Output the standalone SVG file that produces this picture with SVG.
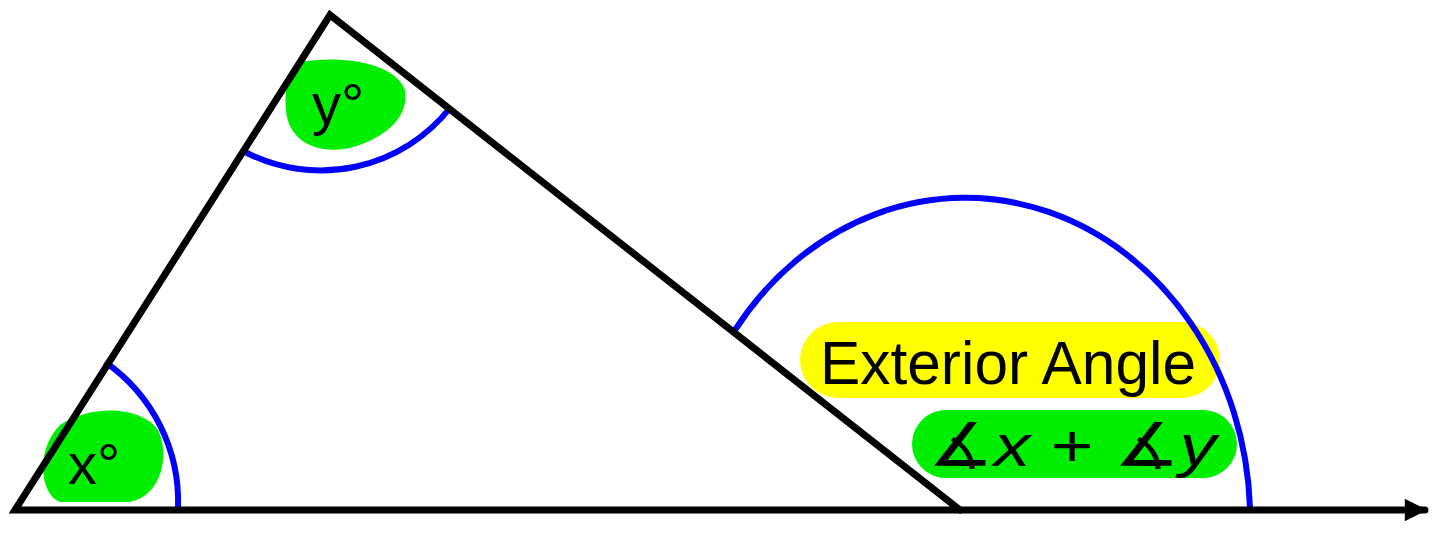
<svg xmlns="http://www.w3.org/2000/svg" width="1440" height="557" viewBox="0 0 1440 557">
<style>
.edge{stroke:#000;stroke-width:7;fill:none;stroke-linejoin:miter;stroke-linecap:round}
.arc{stroke:#0000ff;stroke-width:6;fill:none}
.lbl{font-family:"Comic Sans MS","Liberation Sans",sans-serif;fill:#000}
</style>
<defs>
<marker id="ah" viewBox="0 0 10 10" refX="9" refY="5" markerWidth="4" markerHeight="3.2" orient="auto" markerUnits="strokeWidth">
<path d="M0,0 L10,5 L0,10 z" fill="#000"/>
</marker>
</defs>
<rect width="1440" height="557" fill="#fff"/>
<g id="angle-x">
<path class="arc" d="M105,362 A170,170 0 0 1 178,508"/>
<path d="M60,425 C90,405 140,405 158,430 C170,455 162,495 130,502 L60,502 C40,495 35,450 60,425 z" fill="#00ee00"/>
<text class="lbl" x="68" y="484" font-size="58">x°</text>
</g>
<g id="angle-y">
<path class="arc" d="M245,152 A165,165 0 0 0 450,108"/>
<path d="M300,62 C340,55 395,62 405,90 C410,120 380,140 350,148 C315,155 288,140 286,110 C284,85 290,66 300,62 z" fill="#00ee00"/>
<text class="lbl" x="312" y="124" font-size="58">y°</text>
</g>
<g id="exterior-angle">
<rect x="800" y="322" width="420" height="76" rx="38" fill="#ffff00"/>
<rect x="912" y="410" width="325" height="68" rx="34" fill="#00ee00"/>
<path class="arc" d="M735,330 A285,322 0 0 1 1250,508"/>
<text class="lbl" x="820" y="384" font-size="62" textLength="376" lengthAdjust="spacingAndGlyphs">Exterior Angle</text>
<text class="lbl" x="928" y="466" font-size="60" textLength="288" lengthAdjust="spacingAndGlyphs">∡<tspan font-style="italic">x</tspan> + ∡<tspan font-style="italic">y</tspan></text>
</g>
<g id="connectors">
<path class="edge" d="M960,510 L15,510 L330,15 L960,510"/>
<line class="edge" x1="960" y1="510" x2="1425" y2="510" marker-end="url(#ah)"/>
</g>
</svg>
